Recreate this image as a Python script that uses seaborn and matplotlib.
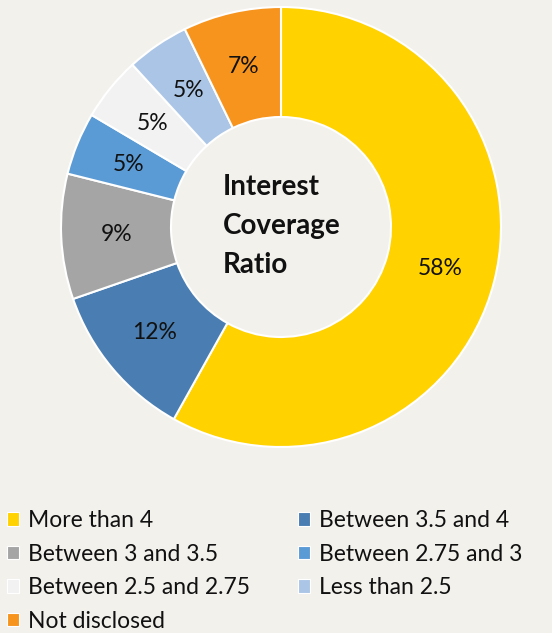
import matplotlib
matplotlib.use("Agg")
import matplotlib.pyplot as plt
import seaborn as sns
from matplotlib.patches import Patch

categories = ["More than 4", "Between 3.5 and 4", "Between 3 and 3.5",
              "Between 2.75 and 3", "Between 2.5 and 2.75", "Less than 2.5",
              "Not disclosed"]
# shares (labels are the rounded shares)
shares = [58.1, 11.6, 9.2, 4.6, 4.7, 4.6, 7.2]
colors = ["#FFD200", "#4A7DB1", "#A5A5A5", "#5B9BD5", "#F2F2F2", "#ABC5E6", "#F7941D"]
center_title = "Interest\nCoverage\nRatio"

bg = "#F3F1EC"
sns.set_theme(style="white")
plt.rcParams["font.family"] = ["Lato", "DejaVu Sans"]

W, H = 552, 633
fig = plt.figure(figsize=(W / 100, H / 100), dpi=100, facecolor=bg)
cx, cy, R = 281, 227, 220
ax = fig.add_axes([(cx - R) / W, (H - cy - R) / H, 2 * R / W, 2 * R / H])
ax.set_facecolor(bg)

wedges, texts, autotexts = ax.pie(
    shares, colors=colors, startangle=90, counterclock=False,
    radius=1.0, autopct=lambda p: "", pctdistance=0.75,
    wedgeprops=dict(width=0.5, edgecolor="white", linewidth=1.5),
)
for t, v in zip(autotexts, shares):
    t.set_text(f"{round(v)}%")
    t.set_fontsize(16.5)
    t.set_color("#111111")
ax.set_xlim(-1, 1)
ax.set_ylim(-1, 1)
ax.set_aspect("equal")
ax.axis("off")

ax.text((223 - cx) / R, (cy - 226) / R, center_title, ha="left", va="center",
        multialignment="left", fontsize=20, fontweight="bold",
        color="#111111", linespacing=1.6)

def make_legend(idx, x_px):
    handles = [Patch(facecolor=colors[i], edgecolor="white", linewidth=0.8) for i in idx]
    labels = [categories[i] for i in idx]
    lg = fig.legend(handles, labels, ncol=1, loc="upper left",
                    bbox_to_anchor=(x_px / W, 1 - 510 / H), frameon=False,
                    fontsize=16.5, handlelength=0.52, handleheight=0.52,
                    handletextpad=0.39, labelspacing=0.55,
                    borderaxespad=0.0, borderpad=0.0)
    for t in lg.get_texts():
        t.set_color("#111111")
    return lg

make_legend([0, 2, 4, 6], 7)
make_legend([1, 3, 5], 298)

fig.savefig("out.png", dpi=100, facecolor=bg)
